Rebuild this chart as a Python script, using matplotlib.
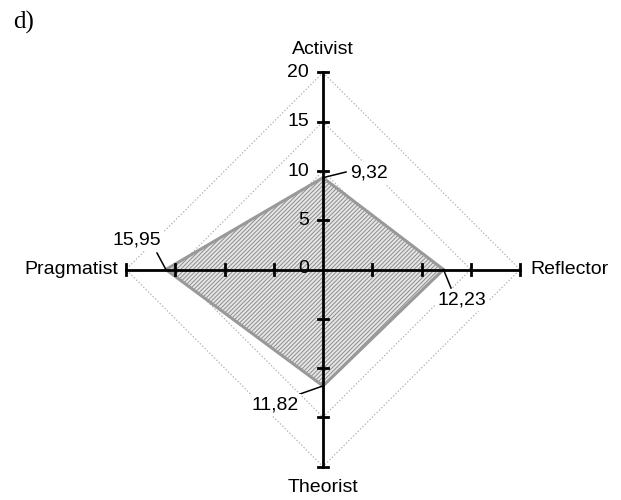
import matplotlib
matplotlib.use("Agg")
import matplotlib.pyplot as plt
import numpy as np

axes_names = ["Activist", "Reflector", "Theorist", "Pragmatist"]
values = [9.32, 12.23, 11.82, 15.95]
value_labels = ["9,32", "12,23", "11,82", "15,95"]
tick_values = [0, 5, 10, 15, 20]
tick_labels = ["0", "5", "10", "15", "20"]

plt.rcParams['font.family'] = ['Liberation Sans', 'DejaVu Sans']
plt.rcParams['hatch.linewidth'] = 0.7

FS = 14
W, H = 621, 500
cx, cy = 323, 269.5
s = 9.85
fig = plt.figure(figsize=(W / 100, H / 100), dpi=100)
ax = fig.add_axes([0, 0, 1, 1])
ax.set_xlim(-cx / s, (W - cx) / s)
ax.set_ylim(-(H - cy) / s, cy / s)
ax.axis('off')

dirs = np.array([[0, 1], [1, 0], [0, -1], [-1, 0]], dtype=float)
rmax = max(tick_values)

# dotted grid diamonds
for t in tick_values[1:]:
    pts = dirs * t
    pts = np.vstack([pts, pts[:1]])
    ax.plot(pts[:, 0], pts[:, 1], color='#aaaaaa', lw=0.8, ls=(0, (1.2, 1.8)), zorder=1)

# data polygon
vals = np.array(values)
poly = dirs * vals[:, None]
ax.fill(poly[:, 0], poly[:, 1], facecolor='#e6e6e6', edgecolor='#8c8c8c',
        hatch='////////', lw=0, zorder=2)
pc = np.vstack([poly, poly[:1]])
ax.plot(pc[:, 0], pc[:, 1], color='#999999', lw=2.2, zorder=3, solid_joinstyle='miter')

# axes
for d in dirs:
    ax.plot([0, d[0] * rmax], [0, d[1] * rmax], color='black', lw=2, zorder=4)
    perp = np.array([-d[1], d[0]])
    for t in tick_values[1:]:
        p = d * t
        tl = 0.55
        ax.plot([p[0] - perp[0] * tl, p[0] + perp[0] * tl],
                [p[1] - perp[1] * tl, p[1] + perp[1] * tl], color='black', lw=2, zorder=4)

# tick labels on top axis
for t, lab in zip(tick_values, tick_labels):
    if t == 0:
        ax.text(-1.4, 0.15, lab, ha='right', va='center', fontsize=FS, zorder=5)
    else:
        ax.text(-1.4, t, lab, ha='right', va='center', fontsize=FS, zorder=5)

# axis names
ax.text(0, (cy - 50) / s, axes_names[0], ha='center', va='center', fontsize=FS)
ax.text((530 - cx) / s, 0, axes_names[1], ha='left', va='center', fontsize=FS)
ax.text(0, (cy - 487) / s, axes_names[2], ha='center', va='center', fontsize=FS)
ax.text((118 - cx) / s, 0, axes_names[3], ha='right', va='center', fontsize=FS)

# value annotations (text positions in pixels relative to center)
text_px = [(369, 173), (462, 300), (275, 405), (137, 240)]
line_end_px = [(346, 172), (451, 288), (300, 394), (157, 253)]
for d, v, lab, tp, le in zip(dirs, values, value_labels, text_px, line_end_px):
    p = d * v
    tx, ty = (tp[0] - cx) / s, (cy - tp[1]) / s
    lx, ly = (le[0] - cx) / s, (cy - le[1]) / s
    ax.plot([p[0], lx], [p[1], ly], color='black', lw=1.1, zorder=6)
    ax.text(tx, ty, lab, ha='center', va='center', fontsize=FS, zorder=7,
            bbox=dict(facecolor='white', edgecolor='none', pad=1.5))

fig.text(13 / W, 1 - 22 / H, "d)", fontsize=18, family='Liberation Serif',
         ha='left', va='center')

fig.savefig('out.png', dpi=100)
